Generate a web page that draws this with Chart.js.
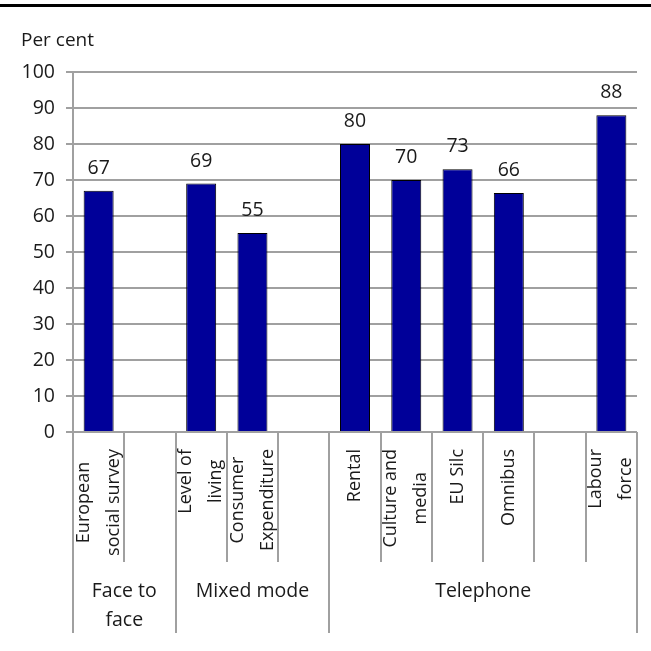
<!DOCTYPE html>
<html>
<head>
<meta charset="utf-8">
<script src="https://cdn.jsdelivr.net/npm/chart.js@4.4.1/dist/chart.umd.min.js"></script>
<style>
  body { margin: 0; background: #fff; }
  #wrap { width: 651px; height: 651px; position: relative; }
</style>
</head>
<body>
<div id="wrap"><canvas id="chart"></canvas></div>
<script>
// survey response rates, one slot per bar, empty slots are the gaps
const categories = [
  ['European', 'social survey'], [], ['Level of', 'living'], ['Consumer', 'Expenditure'], [],
  ['Rental'], ['Culture and', 'media'], ['EU Silc'], ['Omnibus'], [], ['Labour', 'force']
];
const values = [67, null, 69, 55.3, null, 80, 70, 73, 66.4, null, 88];
const groups = [['Face to', 'face'], ['Mixed mode'], ['Telephone']];
const groupSpans = [2, 3, 6];
const yTitle = 'Per cent';
const yMin = 0, yMax = 100, yStep = 10;

const FONT = '"Open Sans", "Noto Sans", sans-serif';
const TEXT = '#1a1a1a';
const GRID = '#a0a0a0';

const labelsPlugin = {
  id: 'labels',
  afterDraw(chart) {
    const ctx = chart.ctx;
    const xs = chart.scales.x;
    const area = chart.chartArea;
    const slot = xs.getPixelForValue(1) - xs.getPixelForValue(0);
    const edge = i => xs.getPixelForValue(i) - slot / 2;

    ctx.save();
    // top rule
    ctx.fillStyle = '#000';
    ctx.fillRect(0, 4, chart.width, 3);

    // axis title
    ctx.fillStyle = TEXT;
    ctx.font = '19px ' + FONT;
    ctx.textAlign = 'left';
    ctx.textBaseline = 'middle';
    ctx.fillText(yTitle, 21, 41);

    // value labels
    ctx.font = '19.5px ' + FONT;
    ctx.textAlign = 'center';
    ctx.textBaseline = 'alphabetic';
    chart.getDatasetMeta(0).data.forEach((bar, i) => {
      if (values[i] == null) return;
      ctx.fillText(Math.round(values[i]), bar.x, bar.y - 17);
    });

    // separators below the axis
    ctx.strokeStyle = GRID;
    ctx.lineWidth = 2;
    const groupEdges = [0];
    groupSpans.forEach(s => groupEdges.push(groupEdges[groupEdges.length - 1] + s));
    for (let i = 0; i <= categories.length; i++) {
      const x = Math.round(edge(i));
      const end = groupEdges.includes(i) ? area.bottom + 201 : area.bottom + 130;
      ctx.beginPath();
      ctx.moveTo(x, area.bottom);
      ctx.lineTo(x, end);
      ctx.stroke();
    }

    // rotated category labels
    ctx.fillStyle = TEXT;
    ctx.font = '18px ' + FONT;
    ctx.textAlign = 'center';
    ctx.textBaseline = 'middle';
    categories.forEach((lines, i) => {
      if (!lines.length) return;
      const cx = xs.getPixelForValue(i);
      const longest = Math.max(...lines.map(l => ctx.measureText(l).width));
      const midY = area.bottom + 17 + longest / 2;
      const gap = 30;
      lines.forEach((l, j) => {
        const lx = cx + (j - (lines.length - 1) / 2) * gap;
        ctx.save();
        ctx.translate(lx, midY);
        ctx.rotate(-Math.PI / 2);
        ctx.fillText(l, 0, 0);
        ctx.restore();
      });
    });

    // group labels
    ctx.font = '19.5px ' + FONT;
    groups.forEach((lines, g) => {
      const cx = (edge(groupEdges[g]) + edge(groupEdges[g + 1])) / 2;
      lines.forEach((l, j) => {
        ctx.fillText(l, cx, area.bottom + 159 + j * 29);
      });
    });
    ctx.restore();
  }
};

new Chart(document.getElementById('chart'), {
  type: 'bar',
  data: {
    labels: categories.map(l => l.join(' ')),
    datasets: [{
      data: values,
      backgroundColor: '#000099',
      borderColor: '#000000',
      borderWidth: 1,
      barPercentage: 0.585,
      categoryPercentage: 1
    }]
  },
  options: {
    responsive: true,
    maintainAspectRatio: false,
    animation: false,
    layout: { padding: { top: 72, right: 14, bottom: 219, left: 0 } },
    plugins: { legend: { display: false }, tooltip: { enabled: false } },
    scales: {
      x: { display: false },
      y: {
        min: yMin,
        max: yMax,
        afterFit(scale) { scale.width = 73; },
        ticks: { stepSize: yStep, padding: 11, color: TEXT, font: { family: FONT, size: 19.5 } },
        grid: { color: GRID, lineWidth: 2, tickLength: 7 },
        border: { color: GRID, width: 2 }
      }
    }
  },
  plugins: [labelsPlugin]
});
</script>
</body>
</html>
